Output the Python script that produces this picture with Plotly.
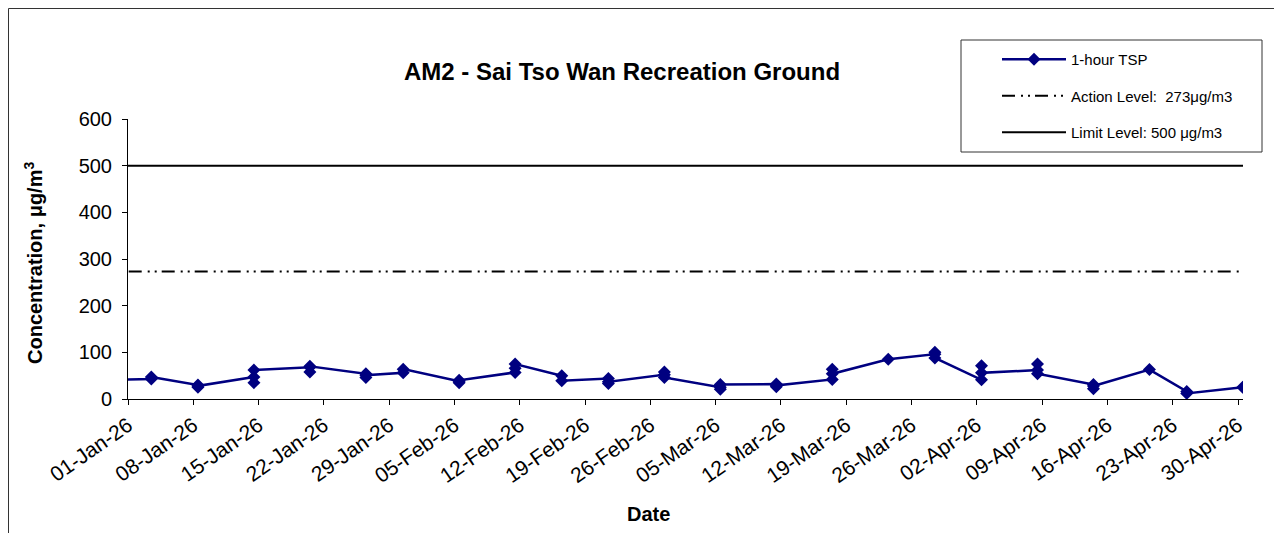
import plotly.graph_objects as go

# ---- data ----
dates = (
    ["2025-12-29 12:00"]
    + ["2026-01-03 12:00"] * 2
    + ["2026-01-08 12:00"] * 3
    + ["2026-01-14 12:00"] * 3
    + ["2026-01-20 12:00"] * 3
    + ["2026-01-26 12:00"] * 3
    + ["2026-01-30 12:00"] * 2
    + ["2026-02-05 12:00"] * 3
    + ["2026-02-11 12:00"] * 3
    + ["2026-02-16 12:00"] * 2
    + ["2026-02-21 12:00"] * 3
    + ["2026-02-27 12:00"] * 3
    + ["2026-03-05 12:00"] * 3
    + ["2026-03-11 12:00"] * 3
    + ["2026-03-17 12:00"] * 3
    + ["2026-03-23 12:00"] * 1
    + ["2026-03-28 12:00"] * 3
    + ["2026-04-02 12:00"] * 3
    + ["2026-04-08 12:00"] * 3
    + ["2026-04-14 12:00"] * 3
    + ["2026-04-20 12:00"] * 1
    + ["2026-04-24 12:00"] * 2
    + ["2026-04-30 12:00"] * 1
)
tsp = [
    41,
    43, 47,
    30, 25, 28,
    47, 35, 62,
    68, 58, 70,
    54, 46, 51,
    56, 64,
    38, 35, 40,
    57, 66, 75,
    50, 39,
    44, 33, 37,
    52, 58, 46,
    25, 21, 31,
    32, 26, 29,
    42, 64, 54,
    85,
    96, 100, 88,
    41, 71, 56,
    62, 75, 54,
    31, 22, 28,
    63,
    16, 12,
    25,
]
level_dates = ["2025-12-25", "2026-05-05"]
action_level = [273, 273]
limit_level = [500, 500]

x_range = ["2026-01-01 00:00", "2026-04-30 12:45"]
y_range = [0, 600]

FONT = "Arial, Liberation Sans, sans-serif"

# page has an 8px body margin: work in screen coordinates and convert
OFF = 8
W, H = 1282 - OFF, 533 - OFF
PL, PR, PT, PB = 128, 1243, 119, 399          # plot area in screen px
L, R, T, B = PL - OFF, W - (PR - OFF), PT - OFF, H - (PB - OFF)
PW, PH = PR - PL, PB - PT


def px(x):
    return (x - PL) / PW


def py(y):
    return (PB - y) / PH


fig = go.Figure()
fig.add_trace(go.Scatter(
    x=dates, y=tsp, mode="lines+markers", name="1-hour TSP",
    line=dict(color="#000080", width=2.5),
    marker=dict(symbol="diamond", size=10, color="#000080"),
    legendgroup="a",
))
fig.add_trace(go.Scatter(
    x=level_dates, y=action_level, mode="lines",
    name="Action Level:&nbsp; 273μg/m3",
    line=dict(color="black", width=2, dash="13px,6px,2px,5px,2px,5px"),
    legendgroup="b",
))
fig.add_trace(go.Scatter(
    x=level_dates, y=limit_level, mode="lines",
    name="Limit Level: 500 μg/m3",
    line=dict(color="black", width=2),
    legendgroup="c",
))

fig.update_layout(
    width=W, height=H,
    margin=dict(l=L, r=R, t=T, b=B, autoexpand=False),
    paper_bgcolor="white", plot_bgcolor="white",
    font=dict(family=FONT, color="black"),
    showlegend=True,
    legend=dict(
        x=px(997), y=py(43), xanchor="left", yanchor="top",
        bgcolor="rgba(0,0,0,0)", borderwidth=0,
        font=dict(size=15, family=FONT, color="black"),
        tracegroupgap=14, itemwidth=64,
    ),
    xaxis=dict(
        type="date", range=x_range, tick0="2026-01-01", dtick=7 * 86400000,
        tickformat="%d-%b-%y", tickangle=-35,
        tickfont=dict(size=21, family=FONT, color="black"),
        ticks="outside", ticklen=5, tickcolor="black",
        showline=True, linecolor="black", linewidth=1,
        showgrid=False, zeroline=False,
    ),
    yaxis=dict(
        range=y_range, dtick=100,
        tickfont=dict(size=20, family=FONT, color="black"),
        ticks="outside", ticklen=5, tickcolor="black", ticklabelstandoff=6,
        showline=True, linecolor="black", linewidth=1,
        showgrid=False, zeroline=False,
    ),
    shapes=[
        dict(type="rect", xref="paper", yref="paper",
             x0=px(8.5), x1=px(1300), y0=py(560), y1=py(8.5),
             line=dict(color="#333333", width=1), fillcolor="rgba(0,0,0,0)"),
        dict(type="rect", xref="paper", yref="paper",
             x0=px(961), x1=px(1262), y0=py(152), y1=py(40),
             line=dict(color="#333333", width=1), fillcolor="rgba(0,0,0,0)"),
    ],
    annotations=[
        dict(text="<b>AM2 - Sai Tso Wan Recreation Ground</b>", xref="paper", yref="paper",
             x=px(622), y=py(72), xanchor="center", yanchor="middle", showarrow=False,
             font=dict(size=24, family=FONT, color="black")),
        dict(text="<b>Concentration, μg/m<sup>3</sup></b>", xref="paper", yref="paper",
             x=px(33), y=py(263), xanchor="center", yanchor="middle", showarrow=False,
             textangle=-90, font=dict(size=20, family=FONT, color="black")),
        dict(text="<b>Date</b>", xref="paper", yref="paper",
             x=px(648), y=py(514), xanchor="center", yanchor="middle", showarrow=False,
             font=dict(size=20, family=FONT, color="black")),
    ],
)

fig.write_html("out.html")
